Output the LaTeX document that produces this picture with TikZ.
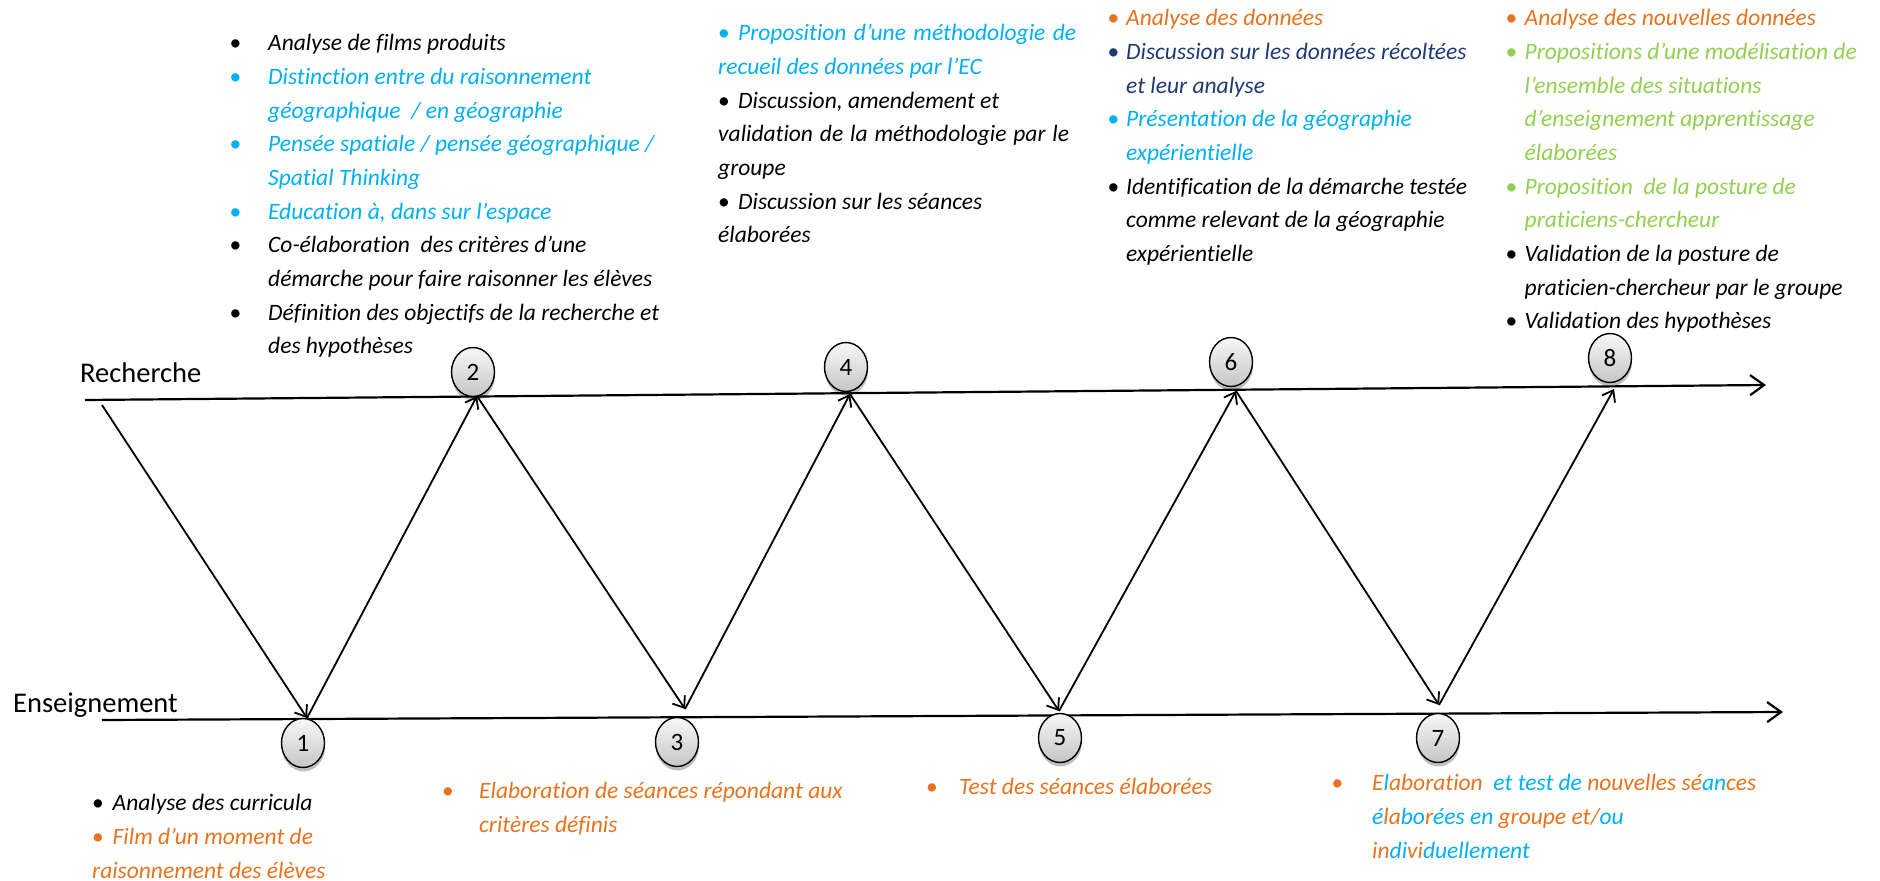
\documentclass[tikz,border=0pt]{standalone}
\usepackage{fontspec}
\setmainfont{Carlito}[Ligatures={NoCommon}]
\usetikzlibrary{shapes.geometric,shadows,arrows.meta}
\definecolor{cblue}{HTML}{00B0F0}
\definecolor{corange}{HTML}{E8731E}
\definecolor{cnavy}{HTML}{1F3A73}
\definecolor{cgreen}{HTML}{92D050}
\newlength{\bind}
\newcommand{\bi}[2]{\strut\makebox[\bind][l]{\textcolor{#1}{\upshape\textbullet}}\textcolor{#1}{#2}}
\newcommand{\ci}[2]{\strut\hspace*{\bind}\textcolor{#1}{#2}}
\newcommand{\pl}[2]{\strut\textcolor{#1}{#2}}
\begin{document}
\begin{tikzpicture}[x=1pt,y=-1pt,
  num/.style={ellipse, draw=black, line width=1.4pt, minimum width=43pt, minimum height=49pt,
    inner sep=0pt, top color=gray!6, bottom color=gray!45,
    drop shadow={shadow xshift=0.5pt, shadow yshift=-4pt, opacity=0.25, fill=black},
    font=\fontsize{25}{29}\selectfont},
  blk/.style={anchor=north west, inner sep=0pt, align=left, font=\fontsize{23.5}{33.7}\selectfont\itshape},
  lbl/.style={anchor=base west, inner sep=0pt, font=\fontsize{28.5}{32}\selectfont},
  axis/.style={line width=2.2pt, -{Straight Barb[length=14pt,width=20pt]}},
  arr/.style={line width=1.8pt, -{Straight Barb[length=10pt,width=15pt]}}
]
\useasboundingbox[fill=white] (0,0) rectangle (1880,881);

% axes
\coordinate (rL) at (85,400);  \coordinate (rR) at (1766,385);
\coordinate (eL) at (102,720); \coordinate (eR) at (1783,712);
\draw[axis] (rL) -- (rR);
\draw[axis] (eL) -- (eR);

% zigzag vertices
\coordinate (t0) at (102,405);
\coordinate (b1) at (307,718);
\coordinate (t2) at (477,396);
\coordinate (b3) at (685,709);
\coordinate (t4) at (850,394);
\coordinate (b5) at (1059,711);
\coordinate (t6) at (1236,391);
\coordinate (b7) at (1439,705);
\coordinate (t8) at (1614,389);
\draw[arr] (t0) -- (b1);
\draw[arr] (b1) -- (t2);
\draw[arr] (t2) -- (b3);
\draw[arr] (b3) -- (t4);
\draw[arr] (t4) -- (b5);
\draw[arr] (b5) -- (t6);
\draw[arr] (t6) -- (b7);
\draw[arr] (b7) -- (t8);

% numbered nodes
\node[num] (n1) at (303,743) {1};
\node[num] (n2) at (473,372) {2};
\node[num] (n3) at (677,742) {3};
\node[num] (n4) at (846,367) {4};
\node[num] (n5) at (1060,738) {5};
\node[num] (n6) at (1231,362) {6};
\node[num] (n7) at (1438,738) {7};
\node[num] (n8) at (1610,358) {8};

% axis labels
\node[lbl] (rech) at (80,382) {Recherche};
\node[lbl] (ens) at (13,712) {Enseignement};

% block 2
\setlength{\bind}{38.5pt}
\node[blk] (txt2) at (229.5,26.9) {%
\bi{black}{Analyse de films produits}\\
\bi{cblue}{Distinction entre du raisonnement}\\
\ci{cblue}{géographique \ / en géographie}\\
\bi{cblue}{Pensée spatiale / pensée géographique /}\\
\ci{cblue}{Spatial Thinking}\\
\bi{cblue}{Education à, dans sur l’espace}\\
\bi{black}{Co-élaboration \ des critères d’une}\\
\ci{black}{démarche pour faire raisonner les élèves}\\
\bi{black}{Définition des objectifs de la recherche et}\\
\ci{black}{des hypothèses}};

% block 4
\setlength{\bind}{20pt}
\node[blk] (txt4) at (718,16.9) {%
\strut\makebox[358pt][s]{\makebox[\bind][l]{\textcolor{cblue}{\upshape\textbullet}}\textcolor{cblue}{Proposition d’une méthodologie de}}\\
\pl{cblue}{recueil des données par l’EC}\\
\bi{black}{Discussion, amendement et}\\
\strut\makebox[351pt][s]{validation de la méthodologie par le}\\
\pl{black}{groupe}\\
\bi{black}{Discussion sur les séances}\\
\pl{black}{élaborées}};

% block 6
\setlength{\bind}{18.5pt}
\node[blk] (txt6) at (1107.5,1.9) {%
\bi{corange}{Analyse des données}\\
\bi{cnavy}{Discussion sur les données récoltées}\\
\ci{cnavy}{et leur analyse}\\
\bi{cblue}{Présentation de la géographie}\\
\ci{cblue}{expérientielle}\\
\bi{black}{Identification de la démarche testée}\\
\ci{black}{comme relevant de la géographie}\\
\ci{black}{expérientielle}};

% block 8
\setlength{\bind}{19pt}
\node[blk] (txt8) at (1505.5,1.9) {%
\bi{corange}{Analyse des nouvelles données}\\
\bi{cgreen}{Propositions d’une modélisation de}\\
\ci{cgreen}{l’ensemble des situations}\\
\ci{cgreen}{d’enseignement apprentissage}\\
\ci{cgreen}{élaborées}\\
\bi{cgreen}{Proposition \ de la posture de}\\
\ci{cgreen}{praticiens-chercheur}\\
\bi{black}{Validation de la posture de}\\
\ci{black}{praticien-chercheur par le groupe}\\
\bi{black}{Validation des hypothèses}};

% block 1
\setlength{\bind}{20.5pt}
\node[blk] (txt1) at (92,786.9) {%
\bi{black}{Analyse des curricula}\\
\bi{corange}{Film d’un moment de}\\
\pl{corange}{raisonnement des élèves}};

% block 3
\setlength{\bind}{37pt}
\node[blk] (txt3) at (442,774.9) {%
\bi{corange}{Elaboration de séances répondant aux}\\
\ci{corange}{critères définis}};

% block 5
\setlength{\bind}{33pt}
\node[blk] (txt5) at (926,770.9) {%
\bi{corange}{Test des séances élaborées}};

% block 7
\setlength{\bind}{40.5pt}
\node[blk] (txt7) at (1331.5,766.9) {%
\bi{corange}{E\textcolor{cblue}{l}aboration \ \textcolor{cblue}{et test de} nouvelles sé\textcolor{cblue}{an}ces}\\
\ci{cblue}{é\textcolor{corange}{la}bo\textcolor{corange}{r}ées en \textcolor{corange}{groupe et/}ou}\\
\ci{corange}{in\textcolor{cblue}{di}vi\textcolor{cblue}{duellement}}};
\end{tikzpicture}
\end{document}
